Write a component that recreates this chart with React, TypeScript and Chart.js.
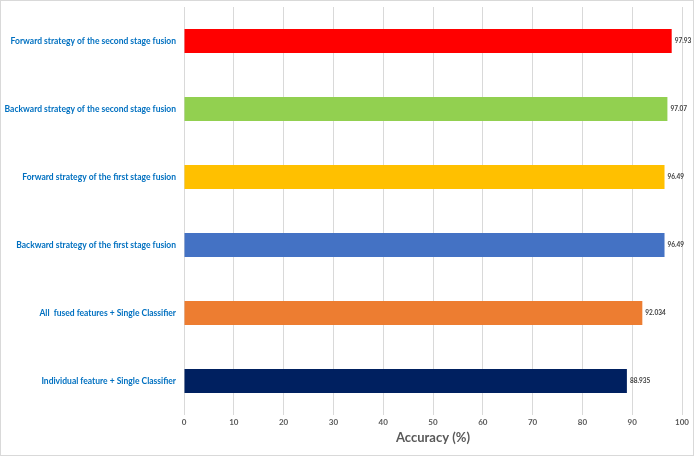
import React, { useEffect, useRef } from "react";
import { Chart, registerables } from "chart.js";

Chart.register(...registerables);

const categories = [
  "Forward strategy of the second stage fusion",
  "Backward strategy of the second stage fusion",
  "Forward strategy of the first stage fusion",
  "Backward strategy of the first stage fusion",
  "All  fused features + Single Classifier",
  "Individual feature + Single Classifier",
];
const accuracy = [97.93, 97.07, 96.49, 96.49, 92.034, 88.935];
const valueLabels = ["97.93", "97.07", "96.49", "96.49", "92.034", "88.935"];
const barColors = ["#FF0000", "#92D050", "#FFC000", "#4472C4", "#ED7D31", "#002060"];
const axisTitle = "Accuracy (%)";

const valueLabelPlugin = {
  id: "valueLabels",
  afterDatasetsDraw(chart: any) {
    const ctx = chart.ctx;
    const meta = chart.getDatasetMeta(0);
    ctx.save();
    ctx.font = "bold 6.5px Lato, 'Open Sans', sans-serif";
    ctx.fillStyle = "#404040";
    ctx.textAlign = "left";
    ctx.textBaseline = "middle";
    meta.data.forEach((bar: any, i: number) => {
      ctx.fillText(valueLabels[i], bar.x + 3, bar.y);
    });
    ctx.restore();
  },
};

export default function App() {
  const ref = useRef<HTMLCanvasElement>(null);
  useEffect(() => {
    if (!ref.current) return;
    const chart = new Chart(ref.current, {
      type: "bar",
      data: {
        labels: categories,
        datasets: [
          {
            data: accuracy,
            backgroundColor: barColors,
            borderColor: barColors,
            borderWidth: 0,
            barPercentage: 0.35,
            categoryPercentage: 1,
          },
        ],
      },
      options: {
        indexAxis: "y",
        animation: false,
        responsive: false,
        maintainAspectRatio: false,
        layout: { padding: { left: 0, right: 11, top: 6, bottom: 9 } },
        plugins: { legend: { display: false }, tooltip: { enabled: false } },
        scales: {
          x: {
            min: 0,
            max: 100,
            ticks: {
              stepSize: 10,
              color: "#595959",
              font: { family: "Lato, 'Open Sans', sans-serif", size: 8, weight: "bold" },
              padding: 3,
            },
            grid: { color: "#D9D9D9", lineWidth: 1, drawTicks: false },
            border: { display: false },
            title: {
              display: true,
              text: axisTitle,
              color: "#595959",
              font: { family: "Lato, 'Open Sans', sans-serif", size: 13, weight: "bold" },
              padding: { top: 0, bottom: 0 },
            },
            afterFit: (scale: any) => {
              scale.height = 31;
            },
          },
          y: {
            ticks: {
              color: "#0070C0",
              font: { family: "Lato, 'Open Sans', sans-serif", size: 8.5, weight: "bold" },
              padding: 8,
            },
            grid: { display: false, drawTicks: false },
            border: { display: false },
            afterFit: (scale: any) => {
              scale.width = 183;
              scale.paddingTop = 0;
              scale.paddingBottom = 0;
            },
          },
        },
      },
      plugins: [valueLabelPlugin],
    });
    return () => chart.destroy();
  }, []);
  return (
    <div
      style={{
        position: "absolute",
        left: 0,
        top: 0,
        width: 694,
        height: 456,
        boxSizing: "border-box",
        border: "1px solid #D9D9D9",
        background: "#fff",
      }}
    >
      <canvas ref={ref} width={692} height={454} style={{ display: "block" }} />
    </div>
  );
}
